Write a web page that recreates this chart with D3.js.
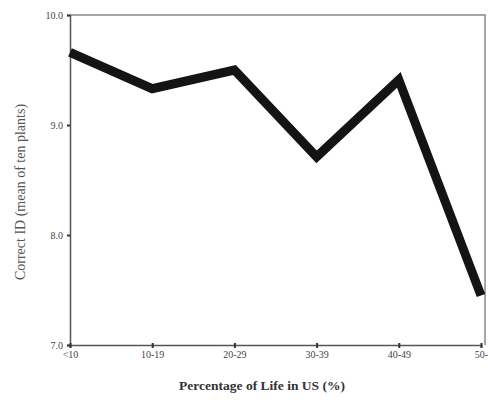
<!DOCTYPE html>
<html>
<head>
<meta charset="utf-8">
<script src="https://cdn.jsdelivr.net/npm/d3@7"></script>
<style>
  body { margin: 0; background: #fff; }
  svg { display: block; }
  text { font-family: "Liberation Serif", "DejaVu Serif", serif; }
</style>
</head>
<body>
<div id="chart"></div>
<script>
// data
const categories = ['<10', '10-19', '20-29', '30-39', '40-49', '50-'];
const correctId = [9.66, 9.33, 9.50, 8.71, 9.41, 7.45];
const yTicks = [7.0, 8.0, 9.0, 10.0];

const width = 488, height = 405;
const margin = {top: 15, right: 5, bottom: 60, left: 70};

const svg = d3.select('#chart').append('svg')
    .attr('width', width)
    .attr('height', height);

const x = d3.scalePoint()
    .domain(categories)
    .range([margin.left, width - margin.right - 2]);

const y = d3.scaleLinear()
    .domain([7, 10])
    .range([height - margin.bottom, margin.top]);

// frame (top + right, thin gray)
svg.append('path')
    .attr('d', `M${margin.left},${margin.top}H${width - 3}V${height - margin.bottom}`)
    .attr('fill', 'none')
    .attr('stroke', '#888')
    .attr('stroke-width', 1.5);

// y axis
const yAxis = svg.append('g')
    .attr('transform', `translate(${margin.left},0)`)
    .call(d3.axisLeft(y).tickValues(yTicks).tickFormat(d3.format('.1f')).tickSize(3).tickPadding(4));
yAxis.select('.domain').attr('stroke', '#555').attr('stroke-width', 1.5);
yAxis.selectAll('.tick line').attr('stroke', '#333').attr('stroke-width', 2);
yAxis.selectAll('.tick text').attr('font-size', 10).attr('fill', '#444')
    .attr('font-family', '"Liberation Serif", serif');

// x axis
const xAxis = svg.append('g')
    .attr('transform', `translate(0,${height - margin.bottom})`)
    .call(d3.axisBottom(x).tickSize(3).tickPadding(3));
xAxis.select('.domain').attr('stroke', '#555').attr('stroke-width', 1.5);
xAxis.selectAll('.tick line').attr('stroke', '#333').attr('stroke-width', 2).attr('y1', -2);
xAxis.selectAll('.tick text').attr('font-size', 10).attr('fill', '#444')
    .attr('font-family', '"Liberation Serif", serif');

// data line
const line = d3.line()
    .x((d, i) => x(categories[i]))
    .y(d => y(d));

svg.append('path')
    .datum(correctId)
    .attr('d', line)
    .attr('fill', 'none')
    .attr('stroke', '#141414')
    .attr('stroke-width', 9)
    .attr('stroke-linejoin', 'miter');

// axis titles
svg.append('text')
    .attr('transform', `translate(25,${(margin.top + height - margin.bottom) / 2 + 12}) rotate(-90)`)
    .attr('text-anchor', 'middle')
    .attr('font-size', 14)
    .attr('fill', '#555')
    .text('Correct ID (mean of ten plants)');

svg.append('text')
    .attr('x', 262)
    .attr('y', 390)
    .attr('text-anchor', 'middle')
    .attr('font-size', 13.5)
    .attr('font-weight', 600)
    .attr('fill', '#333')
    .text('Percentage of Life in US (%)');
</script>
</body>
</html>
